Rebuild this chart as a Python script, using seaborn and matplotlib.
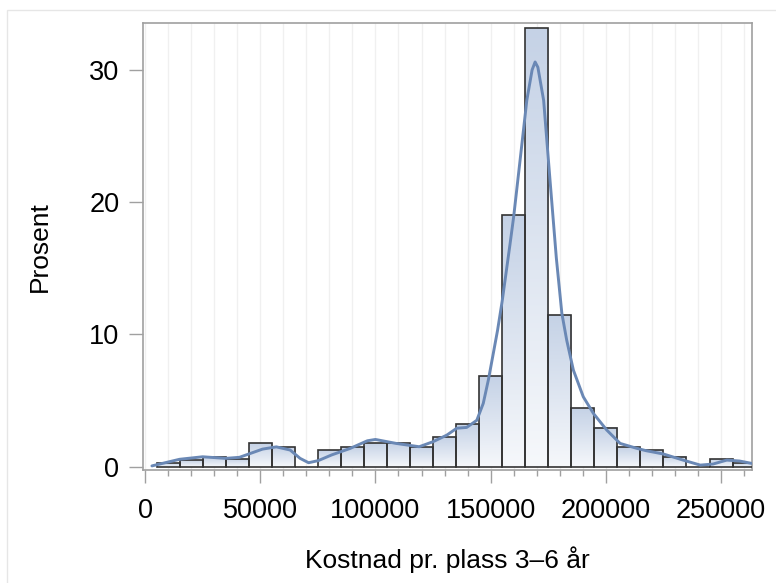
import numpy as np
import pandas as pd
import seaborn as sns
import matplotlib.pyplot as plt
from matplotlib.colors import LinearSegmentedColormap
from matplotlib.patches import Rectangle
from matplotlib.ticker import MultipleLocator

sns.set_style('white')
plt.rcParams['font.family'] = ['Liberation Sans', 'DejaVu Sans']
plt.rcParams['text.color'] = 'black'
plt.rcParams['axes.labelcolor'] = 'black'
plt.rcParams['xtick.labelcolor'] = 'black'
plt.rcParams['ytick.labelcolor'] = 'black'

# histogram bins: centres every 10000, heights in percent
bin_centers = list(range(10000, 270000, 10000))
bin_pct = [0.25, 0.5, 0.7, 0.55, 1.77, 1.46, 0.0, 1.26, 1.46, 1.77,
           1.77, 1.46, 2.22, 3.23, 6.82, 19.0, 33.16, 11.44, 4.42, 2.95,
           1.46, 1.26, 0.76, 0.0, 0.55, 0.3]
bin_edges = list(range(5000, 275000, 10000))

# kernel density curve
kde_x = [3000, 9000, 15000, 25000, 35000, 41000, 51000, 57000, 63000, 67300,
         71000, 75200, 81000, 89000, 96500, 100000, 109000, 119000, 125000,
         131000, 135300, 139600, 144000, 146800, 149000, 151200, 153000,
         155000, 158400, 160000, 162800, 165700, 168000, 169300, 170500,
         173000, 175800, 178500, 180900, 183000, 185900, 190200, 194600,
         200400, 206200, 213400, 217500, 225000, 233500, 241000, 246500,
         252500, 258000, 263300]
kde_y = [0.05, 0.3, 0.55, 0.74, 0.62, 0.7, 1.32, 1.49, 1.25, 0.62,
         0.29, 0.45, 0.88, 1.37, 1.95, 2.05, 1.75, 1.5, 1.88,
         2.38, 2.9, 2.96, 3.5, 4.78, 6.54, 8.6, 10.3,
         12.5, 16.8, 18.9, 23.2, 27.7, 30.0, 30.6, 30.2,
         27.7, 21.6, 15.8, 11.6, 9.57, 7.3, 5.28, 4.02,
         2.76, 1.75, 1.38, 1.2, 0.95, 0.49, 0.11, 0.19,
         0.49, 0.42, 0.24]

x_ticks = [0, 50000, 100000, 150000, 200000, 250000]
y_ticks = [0, 10, 20, 30]

hist_df = pd.DataFrame({'cost': bin_centers, 'pct': bin_pct})
kde_df = pd.DataFrame({'cost': kde_x, 'density': kde_y})

fig = plt.figure(figsize=(7.76, 5.83), dpi=100)
ax = fig.add_axes([143 / 776, 1 - 470 / 583, 608.7 / 776, 447.3 / 583])

sns.histplot(data=hist_df, x='cost', weights='pct', bins=bin_edges,
             stat='count', ax=ax, facecolor='none', edgecolor='#333333',
             linewidth=1.2, zorder=3)

# gradient fill per bar (darker at top, fading to white at the base)
grad = LinearSegmentedColormap.from_list('bargrad', ['#f6f8fb', '#c5d2e6'])
ramp = np.linspace(0, 1, 256).reshape(-1, 1)
for p in list(ax.patches):
    h = p.get_height()
    if h <= 0:
        continue
    x0 = p.get_x()
    ax.imshow(ramp, cmap=grad, origin='lower', aspect='auto', zorder=2,
              extent=[x0, x0 + p.get_width(), p.get_y(), p.get_y() + h])

sns.lineplot(data=kde_df, x='cost', y='density', ax=ax, color='#6a88b5',
             linewidth=2.1, zorder=4)

ax.set_xlim(-870, 263300)
ax.set_ylim(-0.26, 33.57)
ax.set_xticks(x_ticks)
ax.set_xticklabels([str(t) for t in x_ticks])
ax.xaxis.set_minor_locator(MultipleLocator(10000))
ax.set_yticks(y_ticks)

ax.grid(False)
ax.grid(axis='x', which='both', color='#f0f0f0', linewidth=1, zorder=0)
ax.set_axisbelow(True)

for s in ax.spines.values():
    s.set_color('#a0a0a0')
    s.set_linewidth(1.2)

ax.tick_params(axis='x', which='major', length=9, width=1, color='#a0a0a0',
               labelsize=19.5, pad=11, bottom=True)
ax.tick_params(axis='x', which='minor', length=4.3, width=1,
               color='#a0a0a0', bottom=True)
ax.tick_params(axis='y', which='major', length=10, width=1, color='#a0a0a0',
               labelsize=19.5, pad=7, left=True)

ax.set_xlabel('Kostnad pr. plass 3–6 år', fontsize=19)
ax.set_ylabel('Prosent', fontsize=19)
ax.xaxis.set_label_coords(0.5, -0.171)
ax.yaxis.set_label_coords(-0.15, 0.5)

# light outer frame of the graph area
fig.patches.append(Rectangle((7 / 776, -0.01), 1.0, 1 - 10 / 583 + 0.01,
                             transform=fig.transFigure, fill=False,
                             edgecolor='#e6e6e6', linewidth=1))

fig.savefig('out.png', dpi=100)
